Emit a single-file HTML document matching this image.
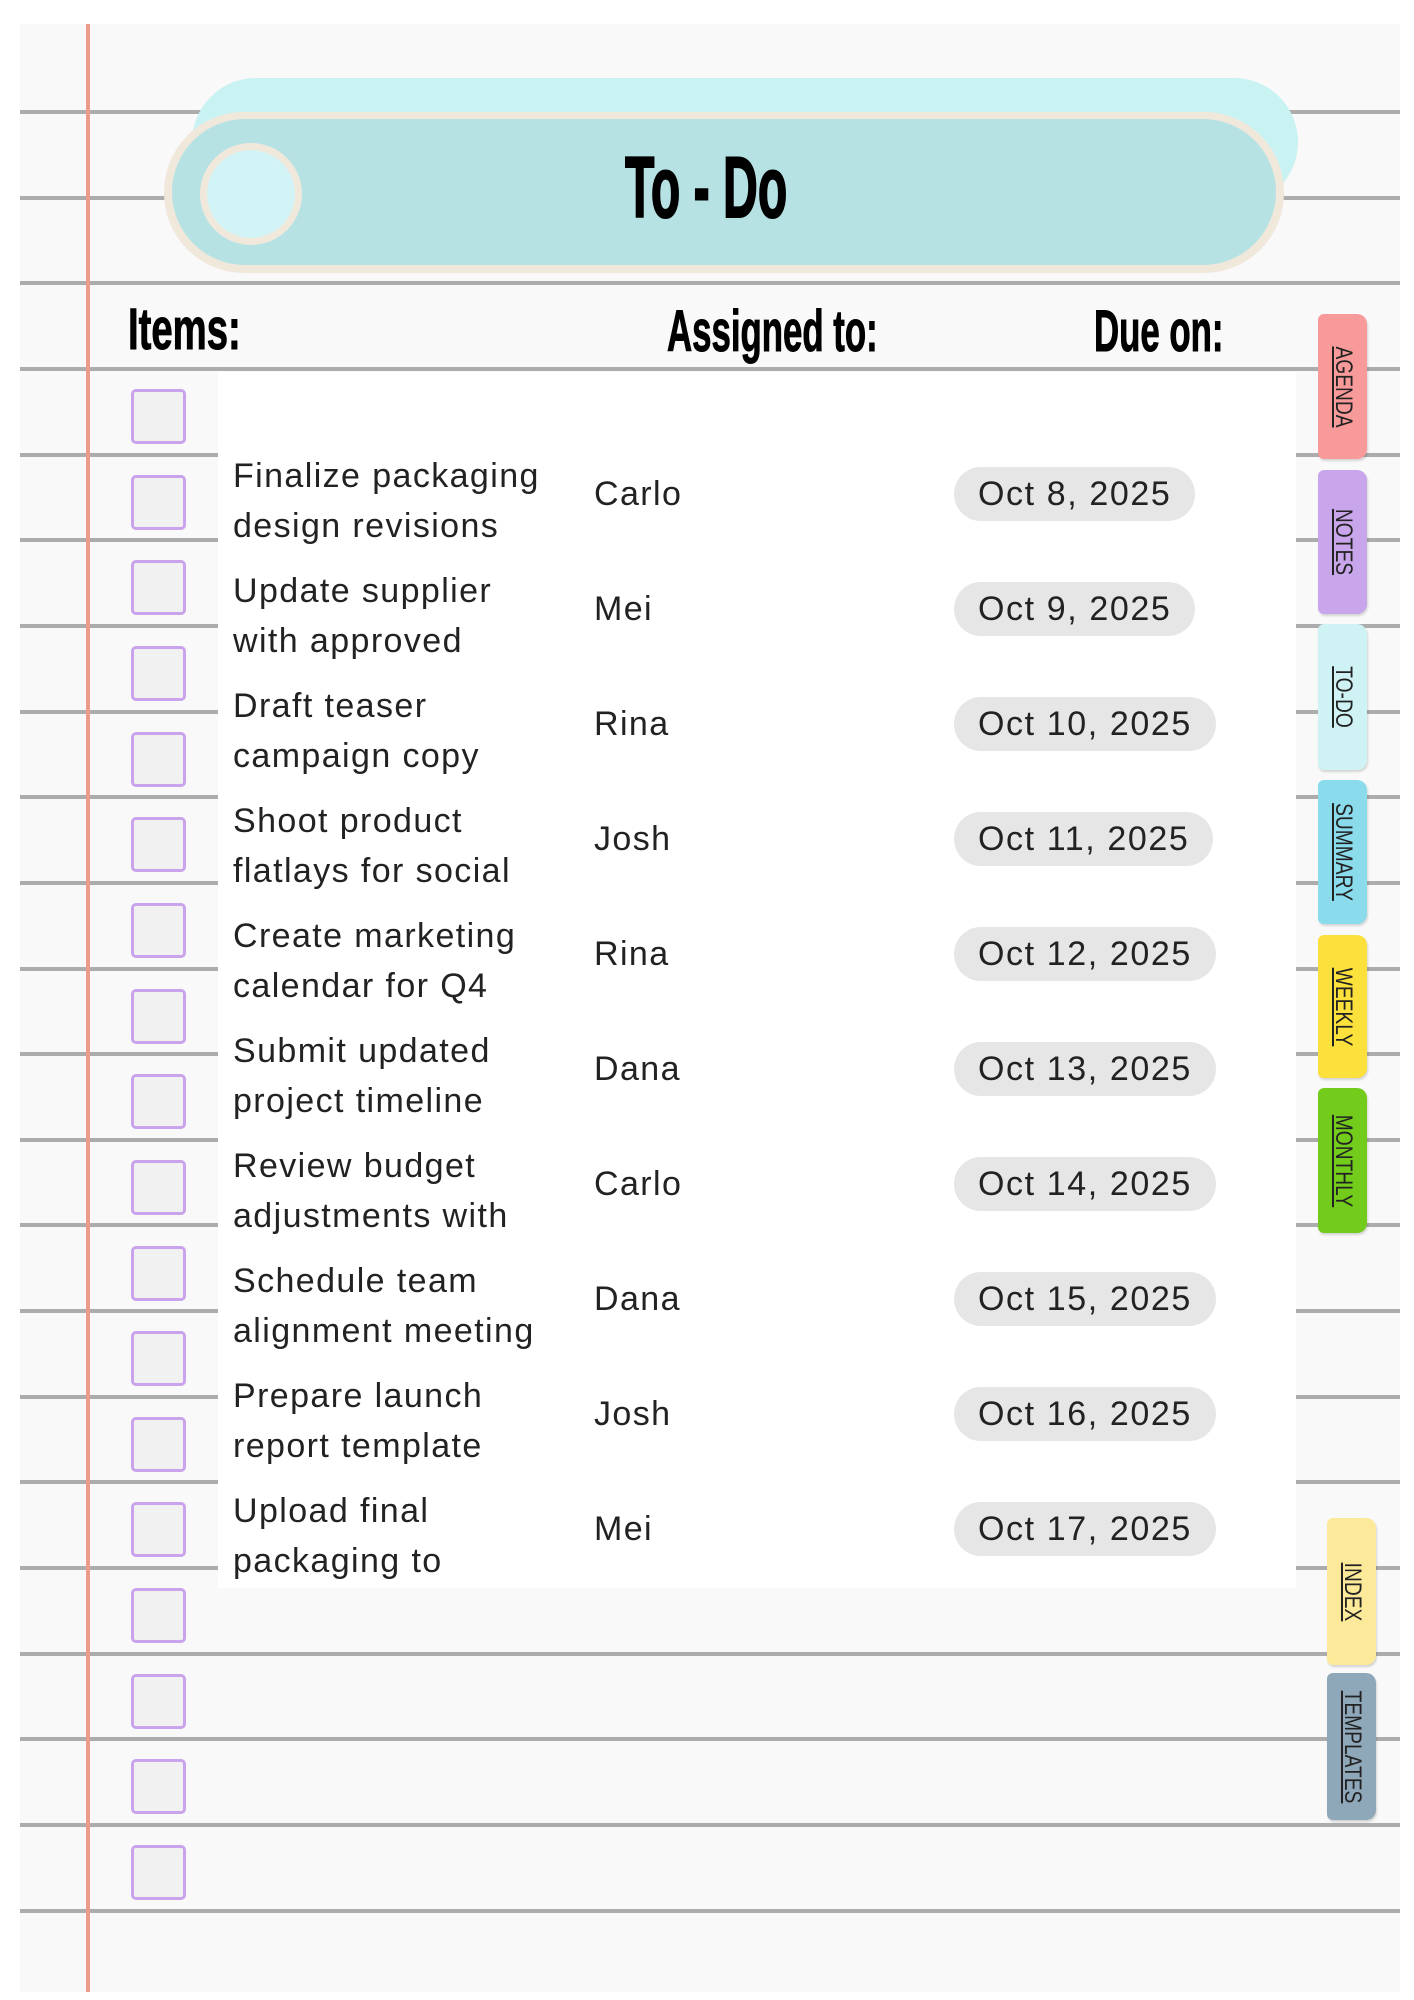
<!DOCTYPE html>
<html><head><meta charset="utf-8">
<style>
body{margin:0;width:1414px;height:2000px;background:#fff;position:relative;overflow:hidden;font-family:"Liberation Sans",sans-serif}
.abs{position:absolute}
.paper{left:20px;top:24px;width:1380px;height:1968px;background:#f9f9f9}
.hl{position:absolute;left:20px;width:1380px;height:4px;background:#acacac}
.margin{left:86px;top:24px;width:4px;height:1968px;background:#eb9b8a}
.panel{left:218px;top:372px;width:1078px;height:1216px;background:#fff}
.cb{position:absolute;left:131px;width:49px;height:49px;border:3px solid #c9a3eb;border-radius:5px;background:#f1f1f1}
.cond{position:absolute;font-weight:bold;white-space:nowrap;transform-origin:0 0;color:#000}
.task{position:absolute;left:233px;font-size:34px;line-height:50px;color:#222;white-space:nowrap;letter-spacing:1.4px}
.name{position:absolute;left:594px;font-size:34px;color:#222;line-height:40px;letter-spacing:1.4px}
.pill{position:absolute;left:954px;height:54px;border-radius:27px;background:#e6e6e6;font-size:34px;line-height:54px;padding:0 24px;color:#222;white-space:nowrap;letter-spacing:1.6px}
.tab{position:absolute;width:49px;border-radius:6px 10px 10px 6px;box-shadow:1px 2px 2px rgba(0,0,0,.15)}
.tab span{position:absolute;left:50%;top:50%;transform:translate(-50%,-50%) rotate(90deg) scaleX(.8);font-size:24px;text-decoration:underline;color:#222;white-space:nowrap}
</style></head><body>
<div class="abs paper"></div>
<div id="lines"></div>
<div class="abs margin"></div>
<div class="abs panel"></div>

<div class="abs" style="left:192px;top:78px;width:1106px;height:128px;border-radius:64px;background:#c9f2f3"></div>
<div class="abs" style="left:164px;top:112px;width:1120px;height:161px;border-radius:80px;background:#f1e8dc"></div>
<div class="abs" style="left:172px;top:119px;width:1104px;height:146px;border-radius:73px;background:#b6e2e4"></div>
<div class="abs" style="left:200px;top:143px;width:88px;height:88px;border-radius:50%;border:7px solid #f1e8dc;background:#d3f4f6"></div>
<div class="cond" style="left:625px;top:138px;font-size:86px;line-height:100px;transform:scaleX(.56);-webkit-text-stroke:2px #000">To - Do</div>

<div class="cond" style="left:128px;top:298px;font-size:58px;line-height:64px;transform:scaleX(.66);-webkit-text-stroke:1px #000">Items:</div>
<div class="cond" style="left:667px;top:300px;font-size:58px;line-height:64px;transform:scaleX(.6);-webkit-text-stroke:1px #000">Assigned to:</div>
<div class="cond" style="left:1094px;top:300px;font-size:58px;line-height:64px;transform:scaleX(.6);-webkit-text-stroke:1px #000">Due on:</div>

<div id="boxes"></div>
<div id="rows"></div>

<div class="tab" style="left:1318px;top:314px;height:145px;background:#f99a9a"><span>AGENDA</span></div>
<div class="tab" style="left:1318px;top:470px;height:144px;background:#c9a6ec"><span>NOTES</span></div>
<div class="tab" style="left:1318px;top:624px;height:146px;background:#cff2f4"><span>TO-DO</span></div>
<div class="tab" style="left:1318px;top:780px;height:144px;background:#8adbec"><span>SUMMARY</span></div>
<div class="tab" style="left:1318px;top:935px;height:143px;background:#fce03c"><span>WEEKLY</span></div>
<div class="tab" style="left:1318px;top:1088px;height:145px;background:#73cc1c"><span>MONTHLY</span></div>
<div class="tab" style="left:1327px;top:1518px;height:147px;background:#fde99a"><span>INDEX</span></div>
<div class="tab" style="left:1327px;top:1673px;height:147px;background:#8fa8b9"><span>TEMPLATES</span></div>

<script>
const tasks1=["Finalize packaging","Update supplier","Draft teaser","Shoot product","Create marketing","Submit updated","Review budget","Schedule team","Prepare launch","Upload final"];
const tasks2=["design revisions","with approved","campaign copy","flatlays for social","calendar for Q4","project timeline","adjustments with","alignment meeting","report template","packaging to"];
const assignees=["Carlo","Mei","Rina","Josh","Rina","Dana","Carlo","Dana","Josh","Mei"];
const dates=["Oct 8, 2025","Oct 9, 2025","Oct 10, 2025","Oct 11, 2025","Oct 12, 2025","Oct 13, 2025","Oct 14, 2025","Oct 15, 2025","Oct 16, 2025","Oct 17, 2025"];

const L=document.getElementById('lines');
for(let k=0;k<22;k++){
  const d=document.createElement('div');
  d.className='hl';
  d.style.top=(110+85.65*k)+'px';
  
  
  L.appendChild(d);
}
const B=document.getElementById('boxes');
for(let i=0;i<18;i++){
  const d=document.createElement('div');
  d.className='cb';
  d.style.top=(389+85.65*i)+'px';
  
  
  B.appendChild(d);
}
const R=document.getElementById('rows');
for(let i=0;i<tasks1.length;i++){
  const c=496+115*i;
  const t=document.createElement('div');
  t.className='task';
  t.style.top=(c-45)+'px';
  t.innerHTML=tasks1[i]+'<br>'+tasks2[i];
  
  
  R.appendChild(t);
  const n=document.createElement('div');
  n.className='name';
  n.style.top=(c-22)+'px';
  n.textContent=assignees[i];
  
  
  R.appendChild(n);
  const p=document.createElement('div');
  p.className='pill';
  p.style.top=(c-29)+'px';
  p.textContent=dates[i];
  
  
  R.appendChild(p);
}
</script>
</body></html>
